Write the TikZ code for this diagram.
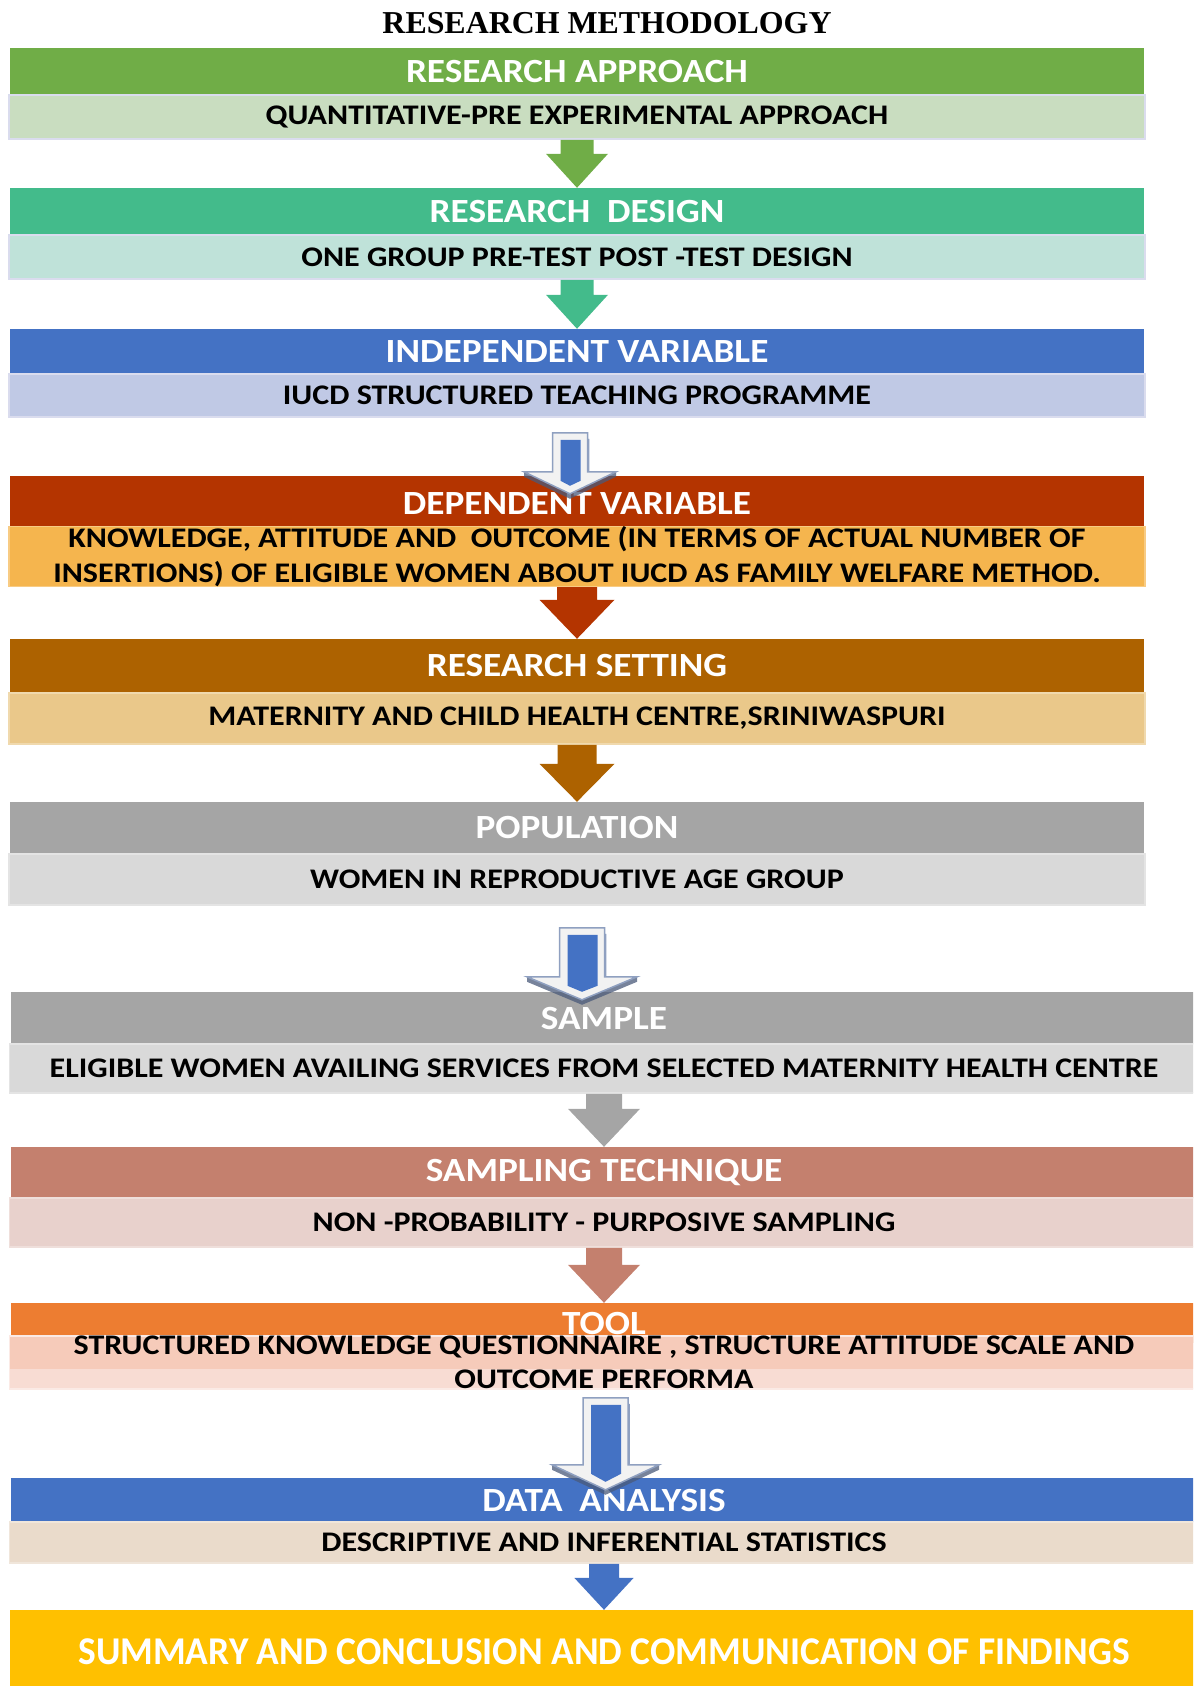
\documentclass[tikz,border=0pt]{standalone}
\usepackage{fontspec}
\setmainfont{Carlito}
\newfontfamily\titlefont{Liberation Serif}
\newfontfamily\hdrfont[FakeStretch=1.10]{Carlito}
\newfontfamily\subfont[FakeStretch=1.128]{Carlito}
\newfontfamily\sumfont[FakeStretch=0.952]{Carlito}
\usetikzlibrary{calc}

\definecolor{apprH}{HTML}{70AD47}\definecolor{apprS}{HTML}{C9DDC0}
\definecolor{desH}{HTML}{43BB8B}\definecolor{desS}{HTML}{BFE2D9}
\definecolor{indH}{HTML}{4472C4}\definecolor{indS}{HTML}{C0C9E5}
\definecolor{depH}{HTML}{B43400}\definecolor{depS}{HTML}{F5B54E}
\definecolor{setH}{HTML}{AD6200}\definecolor{setS}{HTML}{EAC88A}
\definecolor{popH}{HTML}{A5A5A5}\definecolor{popS}{HTML}{D9D9D9}
\definecolor{smpH}{HTML}{C4806E}\definecolor{smpS}{HTML}{E8D1CC}
\definecolor{toolH}{HTML}{ED7D31}\definecolor{toolS}{HTML}{F8DCD3}\definecolor{toolBand}{HTML}{F6CBBA}
\definecolor{anaS}{HTML}{EADBCB}
\definecolor{sumH}{HTML}{FFC000}
\definecolor{subedge}{HTML}{DADCEE}
\definecolor{raised}{HTML}{F2F2F2}
\definecolor{raisedshade}{HTML}{4A5A7A}
\definecolor{raisededge}{HTML}{8FA0C0}

\tikzset{
  hdr/.style={rectangle, inner sep=0pt, minimum width=1133bp, text=white,
              font=\hdrfont\fontsize{34}{40}\selectfont\bfseries},
  subbox/.style={rectangle, inner sep=0pt, minimum width=1136bp, text=black,
              draw=subedge, line width=1.5bp, align=center,
              font=\subfont\fontsize{28.5}{34.5}\selectfont\bfseries},
  widebox/.style={minimum width=1186bp},
  widesub/.style={minimum width=1189bp},
}

% flat block arrow from the bottom of one box to the top of the next
\newcommand\blockarrow[6]{%
  \fill[#3] let \p1=(#1.south), \p2=(#2.north) in
    (\x2-#4bp,\y1) -- (\x2+#4bp,\y1) -- (\x2+#4bp,\y2+#6bp) -- (\x2+#5bp,\y2+#6bp)
    -- (\x2,\y2) -- (\x2-#5bp,\y2+#6bp) -- (\x2-#4bp,\y2+#6bp) -- cycle;}

% raised (bevelled) block arrow: from, to, x offset, top gap, tip depth, head length, shaft half, head half
\newcommand\raisedarrow[8]{%
  \path let \p1=(#1.south), \p2=(#2.north), \p3=($(#2.north)+(#3,0)$) in
    [fill=raisedshade, opacity=0.75]
    (\x3-#8bp,\y2-#5bp+#6bp) -- (\x3,\y2-#5bp) -- (\x3+#8bp,\y2-#5bp+#6bp)
    -- (\x3+#8bp,\y2-#5bp+#6bp-5bp) -- (\x3,\y2-#5bp-5bp) -- (\x3-#8bp,\y2-#5bp+#6bp-5bp) -- cycle;
  \path let \p1=(#1.south), \p2=(#2.north), \p3=($(#2.north)+(#3,0)$) in
    [fill=raised]
    (\x3-#7bp,\y1-#4bp) -- (\x3+#7bp,\y1-#4bp) -- (\x3+#7bp,\y2-#5bp+#6bp)
    -- (\x3+#8bp,\y2-#5bp+#6bp) -- (\x3,\y2-#5bp) -- (\x3-#8bp,\y2-#5bp+#6bp)
    -- (\x3-#7bp,\y2-#5bp+#6bp) -- cycle
    [draw=raisededge, line width=1.5bp]
    (\x3+#7bp+1bp,\y1-#4bp-6bp) -- (\x3+#7bp+1bp,\y2-#5bp+#6bp);
  \fill[indH] let \p1=(#1.south), \p2=(#2.north), \p3=($(#2.north)+(#3,0)$) in
    (\x3-#7bp+8bp,\y1-#4bp-7bp) -- (\x3+#7bp-7bp,\y1-#4bp-7bp)
    -- (\x3+#7bp-7bp,\y2-#5bp+#6bp-9bp) -- (\x3,\y2-#5bp+8bp)
    -- (\x3-#7bp+8bp,\y2-#5bp+#6bp-9bp) -- cycle;}

\begin{document}
\begin{tikzpicture}[x=1bp,y=-1bp]
  \useasboundingbox (0,0) rectangle (1193,1686);
  \clip (0,0) rectangle (1193,1686);

  \node[font=\titlefont\bfseries\fontsize{32}{37}\selectfont] (title) at (607,23) {RESEARCH METHODOLOGY};

  % research approach
  \node[hdr, fill=apprH, minimum height=47bp] (h1) at (577,71.5) {RESEARCH APPROACH};
  \node[subbox, fill=apprS, minimum height=44bp] (s1) at (577,117) {QUANTITATIVE-PRE EXPERIMENTAL APPROACH};
  % research design
  \node[hdr, fill=desH, minimum height=47bp] (h2) at (577,211.5) {RESEARCH\ \ DESIGN};
  \node[subbox, fill=desS, minimum height=44bp] (s2) at (577,257) {ONE GROUP PRE-TEST POST -TEST DESIGN};
  % independent variable
  \node[hdr, fill=indH, minimum height=45bp] (h3) at (577,351.5) {INDEPENDENT VARIABLE};
  \node[subbox, fill=indS, minimum height=43bp] (s3) at (577,395.5) {IUCD STRUCTURED TEACHING PROGRAMME};
  % dependent variable
  \node[hdr, fill=depH, minimum height=55bp] (h4) at (577,503.5) {DEPENDENT VARIABLE};
  \node[subbox, fill=depS, minimum height=51bp, draw=depS!70!white] (s4) at (577,556.5)
    {KNOWLEDGE, ATTITUDE AND\ \ OUTCOME (IN TERMS OF ACTUAL NUMBER OF\\
     INSERTIONS) OF ELIGIBLE WOMEN ABOUT IUCD AS FAMILY WELFARE METHOD.};
  % research setting
  \node[hdr, fill=setH, minimum height=54bp] (h5) at (577,666) {RESEARCH SETTING};
  \node[subbox, fill=setS, minimum height=51bp, draw=setS!70!white] (s5) at (577,718.5) {MATERNITY AND CHILD HEALTH CENTRE,SRINIWASPURI};
  % population
  \node[hdr, fill=popH, minimum height=52bp] (h6) at (577,828) {POPULATION};
  \node[subbox, fill=popS, minimum height=51bp, draw=popS!70!white] (s6) at (577,879.5) {WOMEN IN REPRODUCTIVE AGE GROUP};
  % sample
  \node[hdr, widebox, fill=popH, minimum height=52bp] (h7) at (604,1018) {SAMPLE};
  \node[subbox, widesub, fill=popS, minimum height=49bp, draw=popS!70!white] (s7) at (604,1068.5)
    {ELIGIBLE WOMEN AVAILING SERVICES FROM SELECTED MATERNITY HEALTH CENTRE};
  % sampling technique
  \node[hdr, widebox, fill=smpH, minimum height=51bp] (h8) at (604,1172.5) {SAMPLING TECHNIQUE};
  \node[subbox, widesub, fill=smpS, minimum height=49bp, draw=smpS!70!white] (s8) at (604,1222.5) {NON -PROBABILITY - PURPOSIVE SAMPLING};
  % tool
  \node[hdr, widebox, fill=toolH, minimum height=40bp] (h9) at (604,1323) {TOOL};
  \node[subbox, widesub, fill=toolS, minimum height=49bp, draw=toolS!60!white,
        path picture={\fill[toolBand] (path picture bounding box.north west)
          rectangle ([yshift=-33bp]path picture bounding box.north east);}] (s9) at (604,1362.5)
    {STRUCTURED KNOWLEDGE QUESTIONNAIRE , STRUCTURE ATTITUDE SCALE AND\\ OUTCOME PERFORMA};
  % data analysis
  \node[hdr, widebox, fill=indH, minimum height=44bp] (h10) at (604,1500) {DATA\ \ ANALYSIS};
  \node[subbox, widesub, fill=anaS, minimum height=41bp, draw=anaS!70!white] (s10) at (604,1542.5) {DESCRIPTIVE AND INFERENTIAL STATISTICS};
  % summary
  \node[hdr, minimum width=1188bp, fill=sumH, minimum height=84bp,
        font=\sumfont\fontsize{39.5}{44}\selectfont\bfseries] (h11) at (604,1652)
    {SUMMARY AND CONCLUSION AND COMMUNICATION OF FINDINGS};

  % flat arrows
  \blockarrow{s1}{h2}{apprH}{16.5}{31}{34}
  \blockarrow{s2}{h3}{desH}{16.5}{31}{34}
  \blockarrow{s4}{h5}{depH}{20}{37.5}{39}
  \blockarrow{s5}{h6}{setH}{19.5}{37.5}{38}
  \blockarrow{s7}{h8}{popH}{18}{36}{38}
  \blockarrow{s8}{h9}{smpH}{18}{36}{38}
  \blockarrow{s10}{h11}{indH}{15}{29.7}{32}

  % raised arrows
  \raisedarrow{s3}{h4}{-7}{15}{18}{22}{17.5}{46}
  \raisedarrow{s6}{h7}{-22}{22}{8}{23}{22.5}{55}
  \raisedarrow{s9}{h10}{1.5}{8}{12}{25}{22.5}{53.5}
\end{tikzpicture}
\end{document}
